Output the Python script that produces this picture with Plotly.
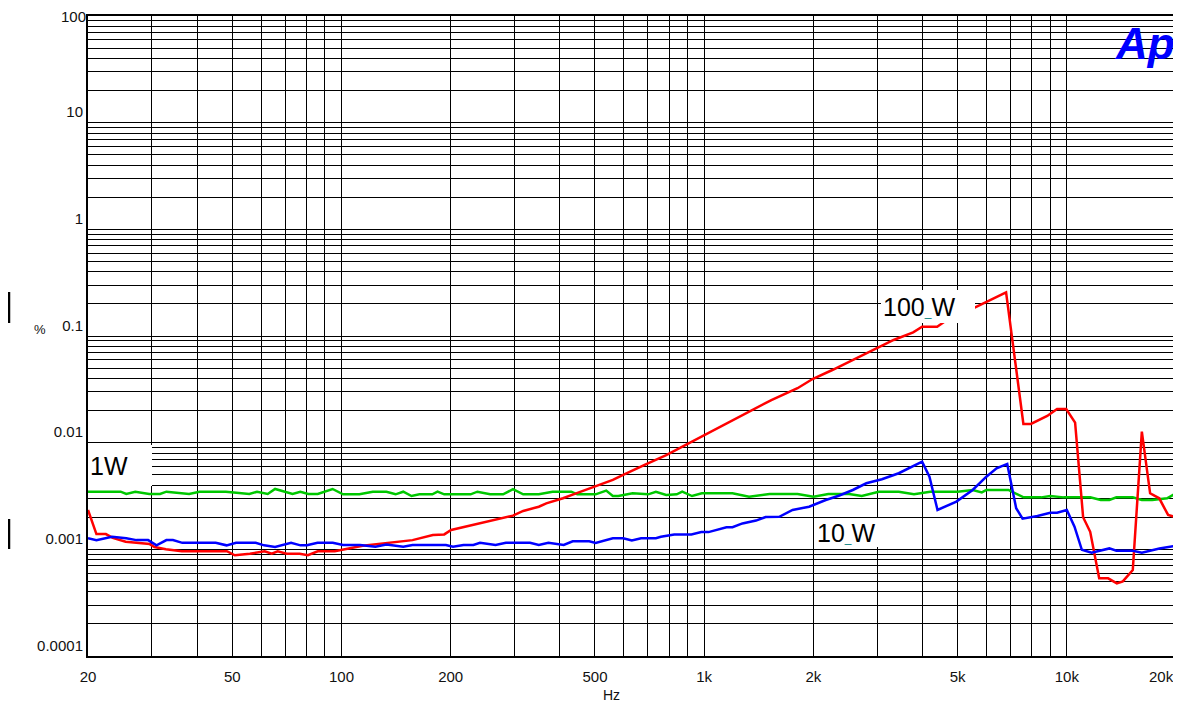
import plotly.graph_objects as go

# ---------------- data ----------------
red_f = [20, 21.1, 22.4, 23.4, 25.4, 27.8, 29.6, 30.5, 32.8, 36.3, 48.3, 50.8, 55.9, 61.4,
         64.2, 66.7, 70.6, 76.7, 80.8, 86, 95.8, 114.4, 127, 141, 157, 178.6, 192, 200.6,
         225, 261, 297, 317, 350, 367, 408, 436, 494, 560, 598, 664, 690, 786, 887, 1009,
         1197, 1354, 1532, 1809, 1990, 2256, 2570, 2920, 3330, 3770, 3990, 4390, 4670,
         5200, 5690, 6800, 7590, 7960, 8830, 9400, 9960, 10540, 11090, 11600, 12280,
         13000, 13740, 14270, 15200, 16100, 16970, 17980, 19020, 20000]
red_v = [0.00234, 0.00139, 0.00139, 0.00128, 0.00118, 0.00115, 0.00112, 0.00105, 0.00100,
         0.00096, 0.00096, 0.00088, 0.00091, 0.00096, 0.00091, 0.00096, 0.00091, 0.00091,
         0.00088, 0.00096, 0.00096, 0.00108, 0.00112, 0.00118, 0.00122, 0.00136, 0.00138,
         0.00152, 0.00166, 0.00186, 0.00207, 0.00229, 0.00251, 0.00270, 0.00301, 0.00328,
         0.00382, 0.00447, 0.00498, 0.00596, 0.00627, 0.00766, 0.0095, 0.01205, 0.0163,
         0.0202, 0.0251, 0.0324, 0.0395, 0.048, 0.0596, 0.074, 0.0918, 0.108, 0.122, 0.122,
         0.141, 0.165, 0.191, 0.257, 0.0150, 0.0150, 0.0178, 0.0207, 0.0207, 0.0154,
         0.0020, 0.00146, 0.000535, 0.000535, 0.00048, 0.0005, 0.00064, 0.01268, 0.00335,
         0.00301, 0.0021, 0.0020]

blue_f = [20, 21.1, 23.3, 25.5, 27.2, 29.3, 30.9, 32.9, 34.3, 36.4, 45, 48.2, 51.2, 58,
          61.2, 65.6, 72.6, 77.1, 80.3, 85.9, 94.6, 101, 112.5, 124, 133, 148, 157, 194,
          203, 217, 231, 241, 266, 284, 331, 350, 372, 410, 434, 482, 502, 560, 598, 632,
          670, 736, 760, 827, 922, 982, 1028, 1152, 1197, 1275, 1390, 1477, 1611, 1753,
          1947, 2164, 2350, 2570, 2800, 3090, 3440, 3990, 4180, 4400, 4960, 5500, 6000,
          6400, 6850, 7250, 7550, 8300, 9000, 9400, 10000, 10500, 11000, 11700, 13100,
          13700, 15200, 16100, 18000, 19600, 20000]
blue_v = [0.00127, 0.00122, 0.00131, 0.00127, 0.00122, 0.00122, 0.00109, 0.00122, 0.00122,
          0.00115, 0.00115, 0.00109, 0.00115, 0.00115, 0.00109, 0.00105, 0.00115, 0.00109,
          0.00109, 0.00115, 0.00115, 0.0011, 0.0011, 0.00106, 0.00111, 0.00106, 0.0011,
          0.0011, 0.00106, 0.0011, 0.0011, 0.00115, 0.0011, 0.00115, 0.00115, 0.0011,
          0.00115, 0.0011, 0.00119, 0.00119, 0.00115, 0.00127, 0.00127, 0.00121, 0.00127,
          0.00127, 0.00131, 0.00138, 0.00138, 0.00145, 0.00145, 0.00161, 0.00161, 0.00175,
          0.00186, 0.00201, 0.00202, 0.00234, 0.00251, 0.0029, 0.00318, 0.0036, 0.00416,
          0.00454, 0.00517, 0.00664, 0.0048, 0.00234, 0.0028, 0.0036, 0.0048, 0.00574,
          0.00632, 0.00243, 0.00194, 0.00205, 0.0022, 0.0022, 0.00234, 0.00163, 0.00099,
          0.00093, 0.00102, 0.00097, 0.00097, 0.00093, 0.00102, 0.00106, 0.00108]

green_f = [20, 24.6, 25.5, 27, 29.5, 31.6, 32.9, 38, 40.6, 48, 55.7, 58.5, 62.6, 65.6, 73.3,
           77, 81, 86, 94.5, 101, 112, 122, 133, 141, 148, 156, 164, 178, 184, 192, 227,
           237, 257, 279, 297, 317, 350, 382, 430, 447, 502, 537, 560, 580, 635, 701, 736,
           786, 840, 870, 926, 985, 1197, 1330, 1515, 1670, 1809, 2002, 2200, 2510, 2720,
           3030, 3440, 3790, 4200, 5000, 5500, 5830, 6000, 6900, 7200, 7600, 8500, 9000,
           9800, 11600, 12400, 13100, 13700, 15200, 16100, 17200, 18900, 20000]
green_v = [0.00347, 0.00347, 0.0033, 0.00347, 0.0033, 0.0033, 0.00347, 0.0033, 0.00347,
           0.00347, 0.0033, 0.00347, 0.0033, 0.00368, 0.0033, 0.00347, 0.0033, 0.0033,
           0.00368, 0.00328, 0.00328, 0.00347, 0.00347, 0.00328, 0.00347, 0.00316, 0.00328,
           0.00328, 0.00347, 0.00328, 0.00328, 0.00347, 0.00328, 0.00328, 0.00366, 0.00328,
           0.00328, 0.00347, 0.00347, 0.00328, 0.00328, 0.00355, 0.00316, 0.00316, 0.00335,
           0.00328, 0.00347, 0.00323, 0.00328, 0.00347, 0.00316, 0.00335, 0.00335, 0.00311,
           0.0033, 0.0033, 0.0033, 0.00311, 0.0033, 0.0033, 0.00316, 0.00347, 0.00347,
           0.00328, 0.00347, 0.00347, 0.0036, 0.00342, 0.0036, 0.0036, 0.00335, 0.00307,
           0.00307, 0.00316, 0.00307, 0.00307, 0.0029, 0.0029, 0.00307, 0.00307, 0.0029,
           0.0029, 0.00301, 0.00335]

x_tickvals = [20, 30, 40, 50, 60, 70, 80, 90, 100, 200, 300, 400, 500, 600, 700, 800, 900,
              1000, 2000, 3000, 4000, 5000, 6000, 7000, 8000, 9000, 10000, 20000]
x_ticktext = ["20", "", "", "50", "", "", "", "", "100", "200", "", "", "500", "", "", "", "",
              "1k", "2k", "", "", "5k", "", "", "", "", "10k", ""]
x_last_label = "20k"

y_decades = [0.0001, 0.001, 0.01, 0.1, 1, 10]
y_decade_labels = ["0.0001", "0.001", "0.01", "0.1", "1", "10"]
y_top_label = "100"

# ---------------- layout helpers ----------------
# The page body has an 8px margin, so the figure sits at (8, 8) in the window.
OFF = 8
W, H = 1181 - OFF, 712 - 2 * OFF
# plot-area edges in window pixels
L, R, T, B = 88, 1176, 16, 656
FONT = "Liberation Sans, Arial, sans-serif"


def px(x):
    return (x - L) / (R - L)


def py(y):
    return (B - y) / (B - T)


y_tickvals = []
y_ticktext = []
for i, d in enumerate(y_decades):
    for m in range(1, 10):
        y_tickvals.append(d * m)
        y_ticktext.append(y_decade_labels[i] if m == 1 else "")
y_tickvals.append(100)
y_ticktext.append("")

fig = go.Figure()
fig.add_trace(go.Scatter(x=green_f, y=green_v, mode="lines", name="1W",
                         line=dict(color="#00c800", width=2.5)))
fig.add_trace(go.Scatter(x=red_f, y=red_v, mode="lines", name="100 W",
                         line=dict(color="#ff0000", width=2.5)))
fig.add_trace(go.Scatter(x=blue_f, y=blue_v, mode="lines", name="10 W",
                         line=dict(color="#0000ff", width=2.5)))

fig.update_xaxes(type="log", range=[1.30103, 4.30103], tickvals=x_tickvals,
                 ticktext=x_ticktext, showgrid=True, gridcolor="black", gridwidth=1,
                 showline=True, linecolor="black", linewidth=2, mirror=True, ticks="",
                 zeroline=False, tickfont=dict(family=FONT, size=15, color="#111"),
                 ticklabelstandoff=6, automargin=False, ticklabeloverflow="allow")
fig.update_yaxes(type="log", range=[-4, 2], tickvals=y_tickvals, ticktext=y_ticktext,
                 showgrid=True, gridcolor="black", gridwidth=1, showline=True,
                 linecolor="black", linewidth=2, mirror=True, ticks="", zeroline=False,
                 tickfont=dict(family=FONT, size=15, color="#111"),
                 ticklabelposition="outside top", ticklabelstandoff=0,
                 automargin=False, ticklabeloverflow="allow")

ann = []
# end tick labels placed by hand so that they stay inside the window
ann.append(dict(text=x_last_label, x=1.0, y=py(676), xref="paper", yref="paper",
                xanchor="right", yanchor="middle", showarrow=False,
                font=dict(family=FONT, size=15, color="#111")))
ann.append(dict(text=y_top_label, x=px(86), y=py(8), xref="paper", yref="paper",
                xanchor="right", yanchor="top", showarrow=False, borderpad=0,
                borderwidth=0, font=dict(family=FONT, size=15, color="#111")))
# series labels (white boxes)
ann.append(dict(text="1W", x=px(88), y=py(445), xref="paper", yref="paper",
                xanchor="left", yanchor="top", showarrow=False, align="left",
                width=60, height=37, borderpad=2, borderwidth=0, bgcolor="white",
                font=dict(family=FONT, size=25, color="black")))
ann.append(dict(text="100<span style='color:#008080;font-size:12px'>_</span>W",
                x=px(881), y=py(290), xref="paper", yref="paper",
                xanchor="left", yanchor="top", showarrow=False, align="left",
                width=90, height=29, borderpad=2, borderwidth=0, bgcolor="white",
                font=dict(family=FONT, size=25, color="black")))
ann.append(dict(text="10<span style='color:#008080;font-size:12px'>_</span>W",
                x=px(815), y=py(518), xref="paper", yref="paper",
                xanchor="left", yanchor="top", showarrow=False, align="left",
                width=59, height=25, borderpad=2, borderwidth=0, bgcolor="white",
                font=dict(family=FONT, size=25, color="black")))
# axis titles
ann.append(dict(text="%", x=px(40), y=py(329), xref="paper", yref="paper",
                xanchor="center", yanchor="middle", showarrow=False,
                font=dict(family=FONT, size=13, color="#111")))
ann.append(dict(text="Hz", x=px(611), y=py(703), xref="paper", yref="paper",
                xanchor="center", yanchor="bottom", showarrow=False, borderpad=0,
                borderwidth=0, font=dict(family=FONT, size=14, color="#111")))
# Ap logo
ann.append(dict(text="<b><i>Ap</i></b>", x=px(1176), y=py(18), xref="paper", yref="paper",
                xanchor="right", yanchor="top", showarrow=False, borderpad=0,
                font=dict(family=FONT, size=44, color="#0000ff")))

shapes = [
    dict(type="line", xref="paper", yref="paper", x0=px(9), x1=px(9), y0=py(292), y1=py(323),
         line=dict(color="black", width=2.5)),
    dict(type="line", xref="paper", yref="paper", x0=px(9), x1=px(9), y0=py(519), y1=py(549),
         line=dict(color="black", width=2.5)),
]

fig.update_layout(width=W, height=H,
                  margin=dict(l=L - OFF, r=W - (R - OFF), t=T - OFF, b=H - (B - OFF)),
                  paper_bgcolor="white", plot_bgcolor="white", showlegend=False,
                  annotations=ann, shapes=shapes)

fig.write_html("out.html")
